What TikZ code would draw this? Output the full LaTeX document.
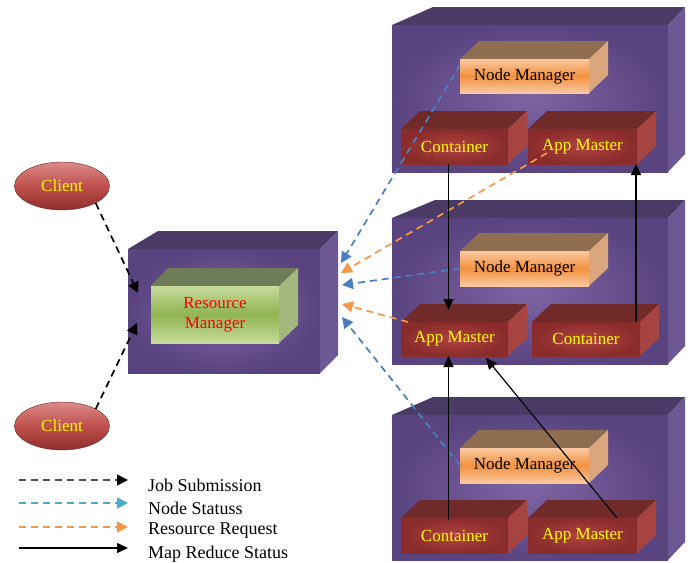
\documentclass[tikz,border=0pt]{standalone}
\usepackage{fontspec}
\setmainfont{Liberation Serif}
\usetikzlibrary{arrows.meta,calc,shapes.geometric}

% colours
\definecolor{purpleIn}{HTML}{7E65A4}
\definecolor{purpleOut}{HTML}{5A4480}
\definecolor{purpleTop}{HTML}{4A3A66}
\definecolor{purpleSide}{HTML}{6E5893}
\definecolor{nmLight}{HTML}{FAC9A2}
\definecolor{nmMid}{HTML}{F2913F}
\definecolor{nmTop}{HTML}{8F6D50}
\definecolor{nmSide}{HTML}{DAA67D}
\definecolor{redIn}{HTML}{B0433F}
\definecolor{redOut}{HTML}{8A2C2C}
\definecolor{redTop}{HTML}{702A2A}
\definecolor{redSide}{HTML}{A64442}
\definecolor{grLight}{HTML}{C6DB9D}
\definecolor{grMid}{HTML}{90B450}
\definecolor{grTop}{HTML}{6F7C58}
\definecolor{grSide}{HTML}{A4B77C}
\definecolor{ellTop}{HTML}{D88C88}
\definecolor{ellMid}{HTML}{C0504D}
\definecolor{ellBot}{HTML}{8E2E2C}
\definecolor{linkBlue}{HTML}{4A7FC0}
\definecolor{linkOrange}{HTML}{F79646}
\definecolor{keyBlue}{HTML}{4BACC6}
\definecolor{txtYellow}{HTML}{FFFF00}

\tikzset{
  face/.style={draw=none, inner sep=0pt, outer sep=0pt, rectangle},
  % purple host boxes
  hosttop/.style={fill=purpleTop},
  hostside/.style={fill=purpleSide},
  hostfront/.style={face, inner color=purpleIn, outer color=purpleOut},
  % node manager boxes
  nmtop/.style={fill=nmTop},
  nmside/.style={fill=nmSide},
  nmfront/.style={face, top color=nmLight, bottom color=nmLight, middle color=nmMid,
    font=\fontsize{17}{19}\selectfont, text=black},
  % container / app master boxes
  redtop/.style={fill=redTop},
  redside/.style={fill=redSide},
  redfront/.style={face, inner color=redIn, outer color=redOut,
    font=\fontsize{17}{19}\selectfont, text=txtYellow},
  % resource manager box
  grtop/.style={fill=grTop},
  grside/.style={fill=grSide},
  grfront/.style={face, top color=grLight, bottom color=grLight, middle color=grMid,
    font=\fontsize{17}{19}\selectfont, text=red, align=center},
  client/.style={ellipse, minimum width=95pt, minimum height=48pt, inner sep=0pt,
    top color=ellTop, bottom color=ellBot, middle color=ellMid, draw=ellBot!80!black,
    line width=0.4pt, text=txtYellow, font=\fontsize{17}{19}\selectfont},
  dashlink/.style={line width=1.7pt, dash pattern=on 7pt off 5pt,
    -{Triangle[length=11pt,width=11pt]}},
  jobarrow/.style={dashlink, black},
  blueArrow/.style={dashlink, linkBlue},
  orangeArrow/.style={dashlink, linkOrange},
  statusarrow/.style={line width=1.2pt, black, -{Triangle[length=11pt,width=10pt]}},
  keytext/.style={anchor=west, inner sep=0pt, font=\fontsize{18}{20}\selectfont},
}

% \slab{name}{x1}{y1}{x2}{y2}{left depth}{right depth}{kind}{label}
% front face from (x1,y1) to (x2,y2), top and right faces 18 units deep
\newcommand\slab[9]{%
  \fill[#8top] (#2,#3) -- (#2+#6,#3-18) -- (#4+#7,#3-18) -- (#4,#3) -- cycle;
  \fill[#8side] (#4,#3) -- (#4+#7,#3-18) -- (#4+#7,#5-18) -- (#4,#5) -- cycle;
  \node[#8front, minimum width={#4-#2}, minimum height={#5-#3}] (#1)
    at ({(#2+#4)/2},{(#3+#5)/2}) {#9};
}

\begin{document}
\begin{tikzpicture}[x=1pt,y=-1pt]
\useasboundingbox[fill=white] (0,0) rectangle (692,562);

% host machines
\slab{host1}{392}{25}{668}{172}{41}{17}{host}{}
\slab{host2}{392}{218}{668}{364}{43}{17}{host}{}
\slab{host3}{392}{415}{668}{560}{41}{17}{host}{}
\slab{rm}{128}{249}{320}{373}{30}{18}{host}{}

% resource manager
\slab{rmcore}{151}{286}{279}{343}{17}{19}{gr}{Resource\\[1pt]Manager}

% first host
\slab{nm1}{460}{59}{589}{93}{19}{19}{nm}{Node Manager}
\slab{c1}{401}{129}{508}{164}{19}{19}{red}{Container}
\slab{am1}{528}{129}{637}{164}{19}{19}{red}{App Master}

% second host
\slab{nm2}{460}{251}{589}{286}{19}{19}{nm}{Node Manager}
\slab{am2}{401}{322}{508}{356}{19}{19}{red}{App Master}
\slab{c2}{532}{322}{640}{356}{19}{19}{red}{Container}

% third host
\slab{nm3}{460}{448}{589}{483}{19}{19}{nm}{Node Manager}
\slab{c3}{401}{518}{508}{553}{19}{19}{red}{Container}
\slab{am3}{528}{518}{637}{553}{19}{19}{red}{App Master}

% clients
\node[client] (cl1) at (62,186) {Client};
\node[client] (cl2) at (62,426) {Client};

% arrival points on the resource manager host
\coordinate (t1) at ($(rm.east)+(21,-48)$);
\coordinate (t2) at ($(rm.east)+(21,-38)$);
\coordinate (t3) at ($(rm.east)+(22,-26)$);
\coordinate (t4) at ($(rm.east)+(22,-7)$);
\coordinate (t5) at ($(rm.east)+(22,6)$);

% job submission
\draw[jobarrow] (cl1.south east) -- ($(rm.west)+(10,-18)$);
\draw[jobarrow] (cl2.north east) -- ($(rm.west)+(9,12)$);

% node status and resource requests
\draw[blueArrow] ($(nm1.north west)+(0,6)$) -- (t1);
\draw[orangeArrow] ($(am1.south west)+(19,-11)$) -- (t2);
\draw[blueArrow] (nm2.west) -- (t3);
\draw[orangeArrow] ($(am2.north west)+(7,0)$) -- (t4);
\draw[blueArrow] (nm3.west) -- (t5);

% map reduce status
\draw[statusarrow] ($(c1.south)+(-6,0)$) -- ($(am2.north)+(-6,-12)$);
\draw[statusarrow] ($(c2.north east)+(-4,0)$) -- ($(am1.south east)+(-1,0)$);
\draw[statusarrow] ($(c3.north)+(-6,2)$) -- ($(am2.south)+(-6,0)$);
\draw[statusarrow] ($(am3.north east)+(-20,0)$) -- ($(am2.south east)+(-22,2)$);

% key
\coordinate (k1a) at (19,480); \coordinate (k1b) at (128,480);
\coordinate (k2a) at (19,503); \coordinate (k2b) at (128,503);
\coordinate (k3a) at (19,527); \coordinate (k3b) at (128,527);
\coordinate (k4a) at (19,548); \coordinate (k4b) at (128,548);
\draw[dashlink, black!70, -{Triangle[length=11pt,width=11pt,color=black]}] (k1a) -- (k1b);
\draw[dashlink, keyBlue] (k2a) -- (k2b);
\draw[dashlink, linkOrange] (k3a) -- (k3b);
\draw[statusarrow] (k4a) -- (k4b);
\node[keytext] (key1) at (148,485) {Job Submission};
\node[keytext] (key2) at (148,508) {Node Statuss};
\node[keytext] (key3) at (148,531) {Resource Request};
\node[keytext] (key4) at (148,554) {Map Reduce Status};
\end{tikzpicture}
\end{document}
